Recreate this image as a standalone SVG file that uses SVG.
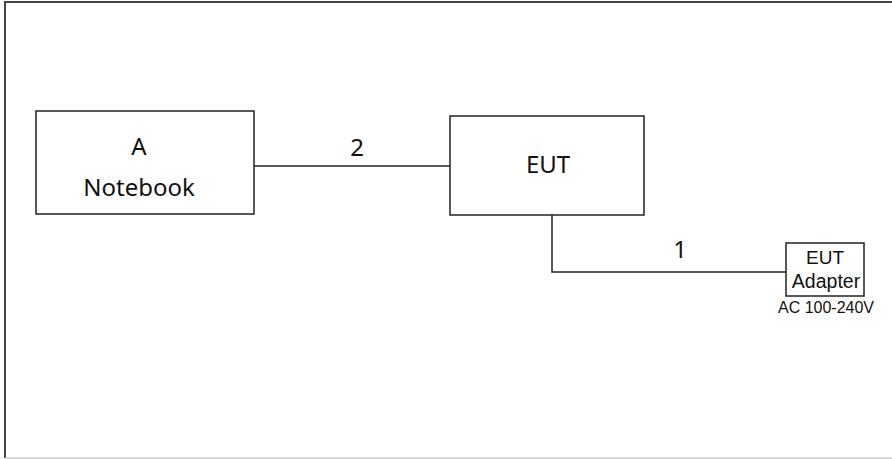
<svg xmlns="http://www.w3.org/2000/svg" width="892" height="459" viewBox="0 0 892 459">
<style>
.box{fill:#fff;stroke:#222;stroke-width:1.5}
.lbl{font-family:"Noto Sans","Open Sans",sans-serif;font-size:24px;fill:#111;text-anchor:middle}
.sm{font-family:"Liberation Sans",Arial,sans-serif;fill:#111;text-anchor:middle}
.wire{fill:none;stroke:#222;stroke-width:1.5}
</style>
<rect width="892" height="459" fill="#fff"/>
<g id="frame">
<line x1="4.5" y1="2" x2="892" y2="2" stroke="#444" stroke-width="2"/>
<line x1="5" y1="1" x2="5" y2="458" stroke="#444" stroke-width="2"/>
<line x1="5" y1="458" x2="892" y2="458" stroke="#ccc" stroke-width="1.5"/>
</g>
<g id="connectors">
<line class="wire" x1="254" y1="166" x2="450" y2="166"/>
<polyline class="wire" points="552,215 552,272 786,272"/>
<text class="lbl" x="357" y="156" font-size="22">2</text>
<text class="lbl" x="680" y="258" font-size="22">1</text>
</g>
<g id="notebook">
<rect class="box" x="36" y="111" width="218" height="103"/>
<text class="lbl" x="139" y="155" font-size="23">A</text>
<text class="lbl" x="139" y="196" font-size="25">Notebook</text>
</g>
<g id="eut">
<rect class="box" x="450" y="116" width="194" height="99"/>
<text class="lbl" x="548" y="173">EUT</text>
</g>
<g id="adapter">
<rect class="box" x="786" y="243" width="78" height="53"/>
<text class="sm" x="825" y="264" font-size="19">EUT</text>
<text class="sm" x="826" y="288" font-size="19.5">Adapter</text>
<text class="sm" x="826" y="313" font-size="16">AC 100-240V</text>
</g>
</svg>
